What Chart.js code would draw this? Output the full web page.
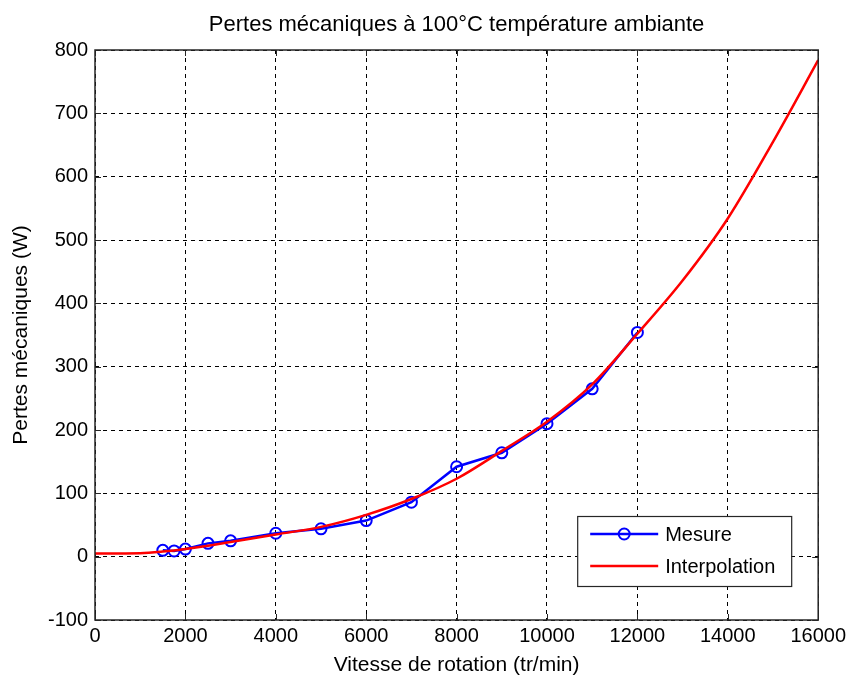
<!DOCTYPE html>
<html>
<head>
<meta charset="utf-8">
<script src="https://cdn.jsdelivr.net/npm/chart.js@4.4.1/dist/chart.umd.min.js"></script>
<style>
  html, body { margin: 0; padding: 0; background: #ffffff; }
  #wrap { width: 850px; height: 678px; }
</style>
</head>
<body>
<div id="wrap"><canvas id="c" width="850" height="678"></canvas></div>
<script>
// ---- Data ----
const mesureSpeed = [1500, 1750, 2000, 2500, 3000, 4000, 5000, 6000, 7000, 8000, 9000, 10000, 11000, 12000];
const mesureLoss  = [10, 9, 12, 21, 25, 37, 44, 57, 86, 142, 164, 210, 265, 354];

const interpSpeed = [0, 1000, 1500, 2000, 3000, 4000, 5000, 6000, 7000, 8000, 9000, 10000, 11000, 12000, 13000, 14000, 15000, 16000];
const interpLoss  = [5, 5.5, 8, 12, 23, 35, 47, 66, 91, 123, 167, 213, 272, 352, 436, 534, 655, 784];

const xTicks = [0, 2000, 4000, 6000, 8000, 10000, 12000, 14000, 16000];
const yTicks = [-100, 0, 100, 200, 300, 400, 500, 600, 700, 800];

const titleText = 'Pertes mécaniques à 100°C température ambiante';
const xLabel = 'Vitesse de rotation (tr/min)';
const yLabel = 'Pertes mécaniques (W)';
const legendLabels = ['Mesure', 'Interpolation'];

const FONT = "'Liberation Sans', Arial, sans-serif";
const BLUE = '#0000ff';
const RED = '#ff0000';
const AXIS = '#262626';

const toXY = (xs, ys) => xs.map((x, i) => ({ x: x, y: ys[i] }));

// Title (centred over the plot area), box, inward ticks and legend
const boxPlugin = {
  id: 'boxPlugin',
  afterDatasetsDraw(chart) {
    const { ctx, chartArea: a, scales } = chart;
    ctx.save();
    // title
    ctx.fillStyle = '#000000';
    ctx.font = '22px ' + FONT;
    ctx.textAlign = 'center';
    ctx.textBaseline = 'middle';
    ctx.fillText(titleText, (a.left + a.right) / 2, 25);

    // inward tick marks
    ctx.strokeStyle = AXIS;
    ctx.lineWidth = 1;
    ctx.setLineDash([]);
    const tl = 6;
    xTicks.forEach(v => {
      const px = Math.round(scales.x.getPixelForValue(v)) + 0.5;
      ctx.beginPath();
      ctx.moveTo(px, a.bottom); ctx.lineTo(px, a.bottom - tl);
      ctx.moveTo(px, a.top); ctx.lineTo(px, a.top + tl);
      ctx.stroke();
    });
    yTicks.forEach(v => {
      const py = Math.round(scales.y.getPixelForValue(v)) + 0.5;
      ctx.beginPath();
      ctx.moveTo(a.left, py); ctx.lineTo(a.left + tl, py);
      ctx.moveTo(a.right, py); ctx.lineTo(a.right - tl, py);
      ctx.stroke();
    });
    // frame
    ctx.lineWidth = 1.5;
    ctx.strokeRect(a.left, a.top, a.right - a.left, a.bottom - a.top);

    // legend
    const lw = 214, lh = 70;
    const lx = a.right - 27 - lw;
    const ly = a.bottom - 34 - lh;
    ctx.fillStyle = '#ffffff';
    ctx.fillRect(lx, ly, lw, lh);
    ctx.lineWidth = 1.2;
    ctx.strokeStyle = AXIS;
    ctx.strokeRect(lx + 0.5, ly + 0.5, lw, lh);
    const r1 = ly + 18, r2 = ly + 50;
    const sx1 = lx + 13, sx2 = lx + 81;
    ctx.lineWidth = 2.5;
    ctx.strokeStyle = BLUE;
    ctx.beginPath(); ctx.moveTo(sx1, r1); ctx.lineTo(sx2, r1); ctx.stroke();
    ctx.lineWidth = 2;
    ctx.beginPath(); ctx.arc((sx1 + sx2) / 2, r1, 5.5, 0, Math.PI * 2); ctx.stroke();
    ctx.lineWidth = 2.5;
    ctx.strokeStyle = RED;
    ctx.beginPath(); ctx.moveTo(sx1, r2); ctx.lineTo(sx2, r2); ctx.stroke();
    ctx.fillStyle = '#000000';
    ctx.font = '20px ' + FONT;
    ctx.textBaseline = 'middle';
    ctx.textAlign = 'left';
    ctx.fillText(legendLabels[0], lx + 88, r1 + 1);
    ctx.fillText(legendLabels[1], lx + 88, r2 + 1);
    ctx.restore();
  }
};

new Chart(document.getElementById('c'), {
  type: 'line',
  data: {
    datasets: [
      {
        label: legendLabels[0],
        data: toXY(mesureSpeed, mesureLoss),
        borderColor: BLUE,
        backgroundColor: 'transparent',
        borderWidth: 2.5,
        pointRadius: 5.5,
        pointBorderWidth: 2,
        pointBorderColor: BLUE,
        pointBackgroundColor: 'transparent',
        tension: 0,
        order: 1
      },
      {
        label: legendLabels[1],
        data: toXY(interpSpeed, interpLoss),
        borderColor: RED,
        backgroundColor: 'transparent',
        borderWidth: 2.5,
        pointRadius: 0,
        cubicInterpolationMode: 'monotone',
        order: 0
      }
    ]
  },
  options: {
    responsive: false,
    animation: false,
    devicePixelRatio: 1,
    layout: { padding: { left: 0, right: 31, top: 50, bottom: 0 } },
    plugins: {
      legend: { display: false },
      tooltip: { enabled: false },
      title: { display: false }
    },
    scales: {
      x: {
        type: 'linear',
        min: 0, max: 16000,
        afterBuildTicks(scale) { scale.ticks = xTicks.map(v => ({ value: v })); },
        afterFit(scale) { scale.height = 58; },
        ticks: {
          color: '#000000', font: { family: FONT, size: 20 }, padding: 4, maxRotation: 0, autoSkip: false,
          callback: v => String(v)
        },
        grid: { color: '#000000', lineWidth: 1, drawTicks: false },
        border: { display: false, dash: [4, 4] },
        title: { display: true, text: xLabel, color: '#000000', font: { family: FONT, size: 21 }, padding: { top: 2, bottom: 0 } }
      },
      y: {
        type: 'linear',
        min: -100, max: 800,
        afterBuildTicks(scale) { scale.ticks = yTicks.map(v => ({ value: v })); },
        afterFit(scale) { scale.width = 95; },
        ticks: {
          color: '#000000', font: { family: FONT, size: 20 }, padding: 7, autoSkip: false,
          callback: v => String(v)
        },
        grid: { color: '#000000', lineWidth: 1, drawTicks: false },
        border: { display: false, dash: [4, 4] },
        title: { display: true, text: yLabel, color: '#000000', font: { family: FONT, size: 21 }, padding: { top: 9, bottom: 0 } }
      }
    }
  },
  plugins: [boxPlugin]
});
</script>
</body>
</html>
